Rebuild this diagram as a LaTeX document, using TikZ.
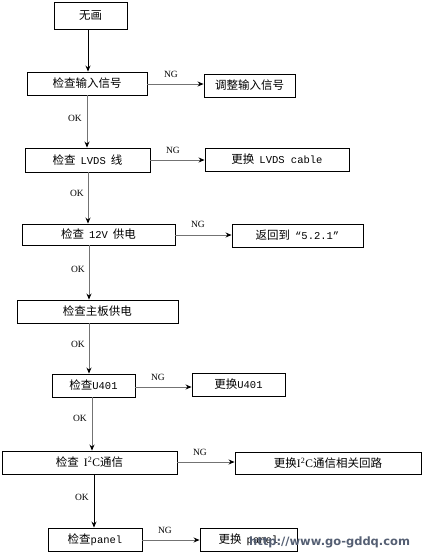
\documentclass[tikz,border=0pt]{standalone}
\usepackage{fontspec}
\setmainfont{Liberation Serif}
\newfontfamily\cjk{Noto Sans CJK SC}
\newfontfamily\monof{Liberation Mono}
\newcommand{\mono}{\monof\fontsize{10.5}{12}\selectfont}
\newfontfamily\wm{DejaVu Sans}
\usetikzlibrary{arrows.meta}
\definecolor{lnc}{gray}{0.45}
\definecolor{wmc}{RGB}{85,95,115}
\tikzset{
  box/.style={draw=black, line width=0.9pt, inner sep=0pt, font=\cjk\fontsize{11.5}{13}\selectfont},
  conn/.style={draw=lnc, line width=0.8pt, -{Stealth[length=6pt,width=5pt,black]}},
  connb/.style={draw=black, line width=0.8pt, -{Stealth[length=6pt,width=5pt,black]}},
  lab/.style={font=\fontsize{9.5}{10}\selectfont, inner sep=1pt},
}
\newcommand{\gapsp}{\hspace{5pt}}
\newcommand{\boxat}[6]{\node[box, minimum width=#4pt-#2pt, minimum height=#5pt-#3pt] (#1) at ({(#2+#4)/2},{(#3+#5)/2}) {#6};}
\begin{document}
\begin{tikzpicture}[x=1pt,y=-1pt]
\useasboundingbox (0,0) rectangle (428,558);
\boxat{a}{54}{2}{127}{29}{无画}
\boxat{b}{27}{72}{147}{95}{检查输入信号}
\boxat{bn}{204}{74}{295}{97}{调整输入信号}
\boxat{c}{25}{148}{150}{172}{检查\gapsp{\mono LVDS}\gapsp 线}
\boxat{cn}{205}{148}{349}{171}{更换\gapsp{\mono LVDS cable}}
\boxat{d}{22}{224}{175}{245}{检查\gapsp{\mono 12V}\gapsp 供电}
\boxat{dn}{232}{224}{363}{247}{返回到\gapsp{\mono “5.2.1”}}
\boxat{e}{17}{300}{178}{323}{检查主板供电}
\boxat{f}{52}{374}{135}{397}{检查{\mono U401}}
\boxat{fn}{192}{373}{285}{396}{更换{\mono U401}}
\boxat{g}{2}{451}{177}{474}{检查\gapsp{\rmfamily I\textsuperscript{2}C}通信}
\boxat{gn}{235}{452}{421}{474}{更换{\rmfamily I\textsuperscript{2}C}通信相关回路}
\boxat{h}{48}{528}{142}{551}{检查{\mono panel}}
\boxat{hn}{200}{528}{297}{551}{更换\gapsp{\mono panel}}
% vertical connectors
\draw[connb] (a.south -| 88,0) -- (b.north -| 88,0);
\draw[conn] (b.south -| 87,0) -- (c.north -| 87,0);
\draw[conn] (c.south -| 88,0) -- (d.north -| 88,0);
\draw[conn] (d.south -| 89,0) -- (e.north -| 89,0);
\draw[conn] (e.south -| 89,0) -- (f.north -| 89,0);
\draw[conn] (f.south -| 92,0) -- (g.north -| 92,0);
\draw[connb] (g.south -| 94,0) -- (h.north -| 94,0);
% horizontal connectors
\draw[conn] (b.east |- 0,84) -- (bn.west |- 0,84);
\draw[conn] (c.east |- 0,160) -- (cn.west |- 0,160);
\draw[conn] (d.east |- 0,235) -- (dn.west |- 0,235);
\draw[conn] (f.east |- 0,387) -- (fn.west |- 0,387);
\draw[conn] (g.east |- 0,462) -- (gn.west |- 0,462);
\draw[conn] (h.east |- 0,540) -- (hn.west |- 0,540);
% labels
\node[lab] (ng1) at (171,74) {NG};
\node[lab] (ng2) at (173,150) {NG};
\node[lab] (ng3) at (198,224) {NG};
\node[lab] (ng4) at (158,377) {NG};
\node[lab] (ng5) at (200,452) {NG};
\node[lab] (ng6) at (165,530) {NG};
\node[lab] (ok1) at (75,118) {OK};
\node[lab] (ok2) at (77,193) {OK};
\node[lab] (ok3) at (78,269) {OK};
\node[lab] (ok4) at (78,344) {OK};
\node[lab] (ok5) at (80,418) {OK};
\node[lab] (ok6) at (82,497) {OK};
% watermark
\node[font=\wm\bfseries\fontsize{11.5}{12}\selectfont, text=wmc, anchor=west, inner sep=0pt] (wmk) at (249,542) {http://www.go-gddq.com};
\end{tikzpicture}
\end{document}
